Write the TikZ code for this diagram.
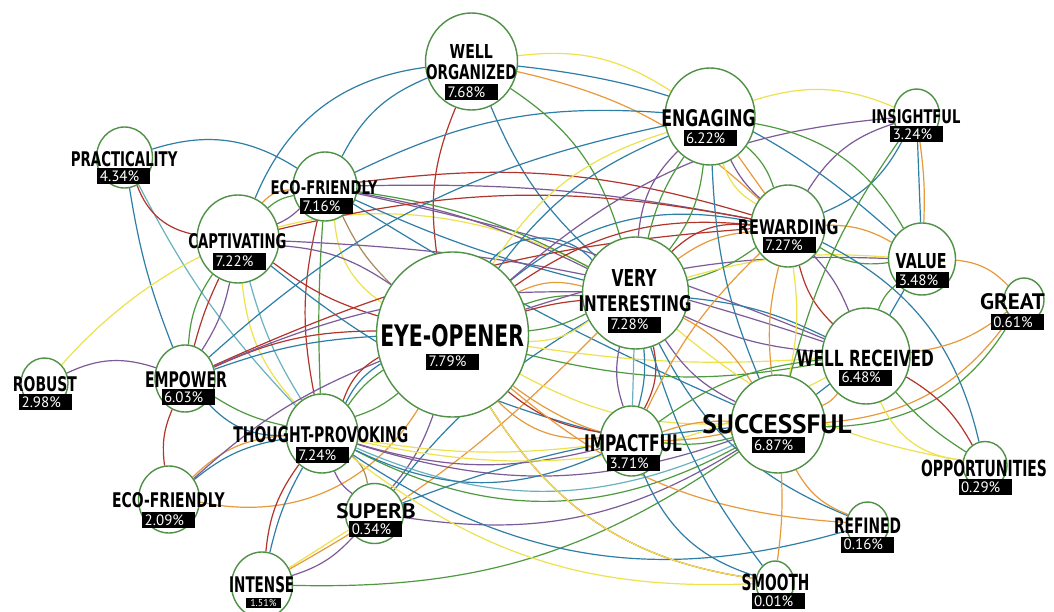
\documentclass[tikz,border=0pt]{standalone}
\usepackage{fontspec}
\setmainfont{DejaVu Sans}
\newfontfamily\pctfont{PT Sans}
\newfontfamily\widefont{PT Sans}
\usetikzlibrary{shapes.geometric}

\definecolor{cblue}{HTML}{2E7EA6}
\definecolor{cgreen}{HTML}{4D9A3F}
\definecolor{cred}{HTML}{B3342A}
\definecolor{corange}{HTML}{E8993A}
\definecolor{cyellow}{HTML}{EEE24C}
\definecolor{cpurple}{HTML}{7D5A98}
\definecolor{cteal}{HTML}{6AB1C0}
\definecolor{cbrown}{HTML}{A88A5C}
\definecolor{ringgreen}{HTML}{4F9145}

% label text squeezed to a given width and cap height
\newcommand\lbl[3]{\resizebox{#1pt}{#2pt}{\bfseries #3}}
\newcommand\wlbl[3]{\resizebox{#1pt}{#2pt}{\widefont\bfseries #3}}

\pgfdeclarelayer{bglayer}
\pgfdeclarelayer{edgelayer}
\pgfsetlayers{bglayer,edgelayer,main}

\begin{document}
\begin{tikzpicture}[x=1pt, y=-1pt,
  bubble/.style={ellipse, draw=ringgreen, line width=1.4pt, fill=white, inner sep=0pt},
  lab/.style={inner sep=0pt},
  pct/.style={fill=black, text=white, font=\pctfont\fontsize{15}{15}\selectfont,
    text width=48pt, inner xsep=2.5pt, inner ysep=0pt, minimum height=16pt, align=left},
  pctsmall/.style={fill=black, text=white, font=\pctfont\fontsize{10}{10}\selectfont,
    text width=29.5pt, inner xsep=2.5pt, inner ysep=0pt, minimum height=10pt, align=center},
  link/.style={line width=1.2pt}]

\begin{pgfonlayer}{bglayer}
\fill[white] (0,0) rectangle (1054,612);
\end{pgfonlayer}
\useasboundingbox (0,0) rectangle (1054,612);

% ---- bubbles ----
\node[bubble, minimum width=92pt,  minimum height=97pt]  (wo)      at (471.5,61.5) {};
\node[bubble, minimum width=56pt,  minimum height=61pt]  (prac)    at (124.5,157.5) {};
\node[bubble, minimum width=64pt,  minimum height=69pt]  (eco1)    at (325,186.5) {};
\node[bubble, minimum width=82pt,  minimum height=88pt]  (capt)    at (238,239) {};
\node[bubble, minimum width=90pt,  minimum height=97pt]  (eng)     at (710,116.5) {};
\node[bubble, minimum width=46pt,  minimum height=52pt]  (ins)     at (916.5,115) {};
\node[bubble, minimum width=74pt,  minimum height=82pt]  (rew)     at (788,226) {};
\node[bubble, minimum width=67pt,  minimum height=72pt]  (val)     at (922,259) {};
\node[bubble, minimum width=40pt,  minimum height=44pt]  (great)   at (1024,300) {};
\node[bubble, minimum width=106pt, minimum height=112pt] (vi)      at (635.5,293) {};
\node[bubble, minimum width=152pt, minimum height=165pt] (eye)     at (452.5,334.5) {};
\node[bubble, minimum width=88pt,  minimum height=96pt]  (wr)      at (866,356) {};
\node[bubble, minimum width=94pt,  minimum height=98pt]  (succ)    at (778,424) {};
\node[bubble, minimum width=63pt,  minimum height=70pt]  (imp)     at (631.5,441) {};
\node[bubble, minimum width=44pt,  minimum height=47pt]  (opp)     at (985,465) {};
\node[bubble, minimum width=42pt,  minimum height=46pt]  (ref)     at (867.5,525) {};
\node[bubble, minimum width=38pt,  minimum height=44pt]  (smooth)  at (775,583) {};
\node[bubble, minimum width=47pt,  minimum height=50pt]  (robust)  at (44.5,383) {};
\node[bubble, minimum width=60pt,  minimum height=67pt]  (emp)     at (185,378.5) {};
\node[bubble, minimum width=72pt,  minimum height=79pt]  (tp)      at (322,433.5) {};
\node[bubble, minimum width=61pt,  minimum height=67pt]  (eco2)    at (169,499.5) {};
\node[bubble, minimum width=58pt,  minimum height=60pt]  (superb)  at (374.5,513.5) {};
\node[bubble, minimum width=61pt,  minimum height=66pt]  (intense) at (262,585) {};

% ---- names ----
\node[lab] (woA)    at (471.3,52)    {\lbl{43.3}{14}{WELL}};
\node[lab] (woB)    at (471.3,72.5)  {\lbl{90.6}{15}{ORGANIZED}};
\node[lab] (pracA)  at (124.2,159.5) {\lbl{106.5}{15}{PRACTICALITY}};
\node[lab] (ecoA)   at (324,188)     {\lbl{107}{14}{ECO-FRIENDLY}};
\node[lab] (captA)  at (237.5,241)   {\lbl{98}{15}{CAPTIVATING}};
\node[lab] (engA)   at (708.5,118)   {\lbl{94.4}{17}{ENGAGING}};
\node[lab] (insA)   at (916,117)     {\lbl{89}{14}{INSIGHTFUL}};
\node[lab] (rewA)   at (788.2,227.5) {\lbl{100.5}{15}{REWARDING}};
\node[lab] (valA)   at (921.2,261)   {\lbl{51}{15}{VALUE}};
\node[lab] (greatA) at (1012.5,301.5) {\wlbl{65}{16}{GREAT}};
\node[lab] (viA)    at (634,278)     {\lbl{45}{17}{VERY}};
\node[lab] (viB)    at (635,304)     {\lbl{113}{16}{INTERESTING}};
\node[lab] (eyeA)   at (452.2,336)   {\lbl{143.7}{22}{EYE-OPENER}};
\node[lab] (wrA)    at (865.3,358)   {\lbl{137.3}{16.5}{WELL RECEIVED}};
\node[lab] (succA)  at (777,424.5)   {\wlbl{149}{19}{SUCCESSFUL}};
\node[lab] (impA)   at (633,443)     {\lbl{98}{17}{IMPACTFUL}};
\node[lab] (oppA)   at (984,468)     {\lbl{126}{16.5}{OPPORTUNITIES}};
\node[lab] (refA)   at (867.5,526)   {\lbl{67}{15.5}{REFINED}};
\node[lab] (smA)    at (775.5,582.5) {\lbl{68}{16.5}{SMOOTH}};
\node[lab] (robA)   at (45,384.5)    {\lbl{64}{15}{ROBUST}};
\node[lab] (empA)   at (186,379.5)   {\lbl{82}{16}{EMPOWER}};
\node[lab] (tpA)    at (320.8,435)   {\lbl{175}{16}{THOUGHT-PROVOKING}};
\node[lab] (eco2A)  at (168.5,500.5) {\lbl{112.6}{15}{ECO-FRIENDLY}};
\node[lab] (supA)   at (376,511)     {\wlbl{79.5}{15}{SUPERB}};
\node[lab] (intA)   at (261.7,585)   {\lbl{65}{16}{INTENSE}};

% ---- shares ----
\node[pct] (woP)    at (471.6,92.5)  {7.68\%};
\node[pct] (pracP)  at (123.9,176)   {4.34\%};
\node[pct] (ecoP)   at (326.7,206)   {7.16\%};
\node[pct] (captP)  at (239.7,261.5) {7.22\%};
\node[pct] (engP)   at (710,138.5)   {6.22\%};
\node[pct] (insP)   at (916.8,134)   {3.24\%};
\node[pct] (rewP)   at (789,245)     {7.27\%};
\node[pct] (valP)   at (922.8,280)   {3.48\%};
\node[pct] (greatP) at (1017.3,322)  {0.61\%};
\node[pct] (viP)    at (634.7,324.5) {7.28\%};
\node[pct] (eyeP)   at (452.7,361.5) {7.79\%};
\node[pct] (wrP)    at (865.5,377.5) {6.48\%};
\node[pct] (succP)  at (778,445)     {6.87\%};
\node[pct] (impP)   at (633.5,463)   {3.71\%};
\node[pct] (oppP)   at (985,487)     {0.29\%};
\node[pct] (refP)   at (867.7,544.5) {0.16\%};
\node[pct] (smP)    at (778,601)     {0.01\%};
\node[pct] (robP)   at (45.6,402)    {2.98\%};
\node[pct] (empP)   at (188,397)     {6.03\%};
\node[pct] (tpP)    at (322.4,455)   {7.24\%};
\node[pct] (eco2P)  at (168.7,520)   {2.09\%};
\node[pct] (supP)   at (375.8,529)   {0.34\%};
\node[pctsmall] (intP) at (263.4,603) {1.51\%};

% ---- links (bend: positive = bend left) ----
\begin{pgfonlayer}{edgelayer}
\foreach \ea/\eb/\ecol/\ebend in {
  prac/eco1/cblue/25, prac/emp/cblue/-6, prac/tp/cteal/-8, prac/capt/cred/-30,
  robust/emp/cpurple/22, robust/vi/cyellow/38,
  wo/capt/cblue/-30, wo/eco1/cblue/-20, wo/eye/cred/-15, wo/vi/cblue/-12,
  wo/eng/cyellow/20, wo/rew/corange/15, wo/val/cblue/18, wo/vi/cgreen/20,
  eco1/rew/cred/12, eco1/rew/cpurple/6, eco1/wr/cpurple/5, eco1/vi/cgreen/10,
  eco1/vi/cpurple/8, eco1/vi/cblue/-5, eco1/eng/cblue/15,
  eco1/succ/cblue/-4, eco1/eye/cbrown/-10, eco1/eye/cyellow/-25,
  eco1/tp/cgreen/-3, eco1/tp/cred/-12,
  capt/eco1/cgreen/15, capt/eco1/corange/25, capt/eco1/cpurple/-10,
  capt/eye/cpurple/15, capt/eye/cred/-10, capt/tp/cyellow/-18, capt/tp/cteal/-8,
  capt/imp/cblue/-12, capt/emp/cgreen/-15, capt/emp/cred/-5, capt/emp/cpurple/10,
  capt/rew/cred/12, capt/wr/cpurple/8,
  emp/eco2/cred/-15, emp/tp/cblue/-25, emp/tp/cgreen/-10, emp/eye/cred/12,
  emp/eye/cblue/8, emp/rew/cred/10, emp/vi/cpurple/12, emp/eng/cblue/15,
  eco2/tp/cblue/15, eco2/tp/corange/20, eco2/eye/corange/-35, eco2/eye/cpurple/10,
  intense/tp/cred/15, intense/tp/cblue/8, intense/superb/cyellow/0,
  intense/superb/cpurple/-15, intense/vi/corange/-8, intense/succ/cgreen/-18,
  superb/tp/cbrown/-20, superb/tp/cpurple/15, superb/eye/cpurple/-10,
  superb/succ/cblue/8, superb/succ/cpurple/-20, superb/vi/cblue/10,
  tp/eye/cgreen/10, tp/eye/cgreen/-10, tp/eye/cblue/15, tp/eye/cred/20,
  tp/imp/cpurple/-15, tp/succ/cpurple/-18, tp/wr/cyellow/-20, tp/succ/cgreen/-28,
  tp/succ/cteal/-24, tp/ref/cblue/-25, tp/imp/cyellow/-8, tp/imp/cblue/-25,
  tp/smooth/cyellow/-20,
  eye/vi/cgreen/10, eye/vi/cgreen/-10, eye/vi/cred/5, eye/vi/cyellow/-18,
  eye/vi/corange/20, eye/vi/cblue/50, eye/rew/cred/20, eye/rew/cblue/25,
  eye/eng/cblue/15, eye/eng/cyellow/20, eye/wr/cgreen/-12, eye/wr/cyellow/-6,
  eye/succ/cyellow/-15, eye/succ/corange/-25, eye/imp/cred/-15, eye/imp/corange/-25,
  eye/smooth/cred/-25, eye/smooth/cyellow/-25, eye/ref/corange/-18,
  eye/val/cpurple/10, eye/ins/cpurple/18,
  vi/eng/cgreen/-15, vi/eng/cgreen/10, vi/eng/cpurple/20, vi/rew/cgreen/-10,
  vi/rew/corange/15, vi/rew/cred/25, vi/wr/cpurple/-10, vi/wr/cblue/10,
  vi/succ/cpurple/-15, vi/succ/corange/15, vi/imp/cpurple/-15, vi/imp/cblue/10,
  vi/imp/cteal/0, vi/imp/cred/20, vi/val/cyellow/10, vi/ref/cblue/-20,
  vi/opp/cyellow/-15, vi/smooth/cblue/-10,
  rew/eng/cgreen/-15, rew/eng/cpurple/10, rew/eng/corange/0, rew/eng/cyellow/20,
  rew/ins/cpurple/20, rew/ins/cblue/-20, rew/val/cgreen/-20, rew/val/corange/15,
  rew/wr/cred/-15, rew/wr/cpurple/10, rew/succ/cyellow/10, rew/succ/corange/-10,
  rew/imp/corange/-10, rew/opp/cblue/25,
  eng/ins/cyellow/20, eng/val/cgreen/25, eng/succ/cblue/-10,
  ins/val/cblue/0, ins/val/corange/5, ins/succ/cgreen/-10,
  val/great/corange/20, val/wr/cblue/0, val/wr/cgreen/-15,
  great/succ/corange/25, great/succ/cgreen/30, great/wr/corange/15,
  opp/wr/cgreen/8, opp/wr/cred/-15, wr/opp/cyellow/-30,
  ref/succ/corange/20, smooth/succ/corange/-5, imp/smooth/cblue/-25,
  imp/succ/corange/10, imp/succ/cgreen/-10, imp/wr/cgreen/15,
  succ/wr/cblue/0, succ/wr/corange/-15}
  \draw[link, \ecol] (\ea) to[bend left=\ebend] (\eb);
\end{pgfonlayer}
\end{tikzpicture}
\end{document}
